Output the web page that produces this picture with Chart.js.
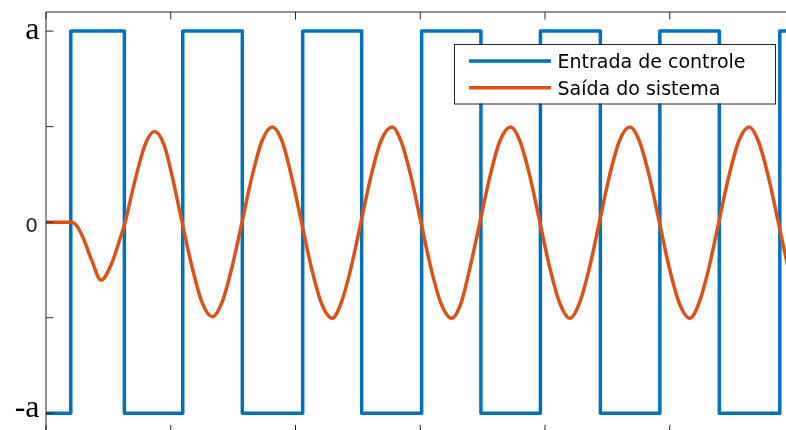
<!DOCTYPE html>
<html>
<head>
<meta charset="utf-8">
<script src="https://cdn.jsdelivr.net/npm/chart.js@4/dist/chart.umd.min.js"></script>
<style>
  html, body { margin: 0; padding: 0; background: #fff; overflow: hidden; }
  #wrap { width: 786px; height: 430px; overflow: hidden; position: relative; background: #fff; }
  canvas { display: block; }
</style>
</head>
<body>
<div id="wrap"><canvas id="c" width="800" height="440" style="width:800px;height:440px"></canvas></div>
<script>
// ---- data ----
const seriesNames = ['Entrada de controle', 'Saída do sistema'];
const xTickValues = [0, 1, 2, 3, 4, 5, 6];
const yTickValues = [-1, -0.5, 0, 0.5, 1];
const yTickLabels = ['-a', '', '0', '', 'a'];

// control input (relay): switching instants and the level that starts there
const inputX = [0, 0.1987, 0.6282, 1.0962, 1.5737, 2.0577, 2.5304, 3.0112, 3.4864, 3.9631, 4.4439, 4.9207, 5.3974, 5.8822, 6.0];
const inputY = [-1, 1, -1, 1, -1, 1, -1, 1, -1, 1, -1, 1, -1, 1, 1];

// system output
const outputX = [0, 0.209, 0.247, 0.300, 0.367, 0.4415, 0.527, 0.594, 0.634,
  0.714, 0.794, 0.869, 0.9463, 1.0184, 1.0905,
  1.171, 1.251, 1.3333, 1.411, 1.4912, 1.5713,
  1.6514, 1.7316, 1.8141, 1.8918, 1.968, 2.048,
  2.1282, 2.2083, 2.2949, 2.3646, 2.4447, 2.5248,
  2.605, 2.6851, 2.7756, 2.8454, 2.9255, 3.0056,
  3.0857, 3.1659, 3.2516, 3.3261, 3.3982, 3.4784,
  3.5585, 3.6386, 3.7244, 3.7989, 3.879, 3.9591,
  4.0393, 4.1194, 4.1995, 4.2756, 4.3558, 4.4359,
  4.516, 4.5962, 4.6803, 4.7564, 4.8365, 4.9167,
  4.9968, 5.0769, 5.1611, 5.2332, 5.3133, 5.3934,
  5.4736, 5.5537, 5.6362, 5.7099, 5.7901, 5.8702,
  5.9503, 6.0304];
const outputY = [0, 0, -0.02, -0.085, -0.2, -0.303, -0.215, -0.085, 0,
  0.22, 0.405, 0.474, 0.405, 0.22, 0,
  -0.235, -0.42, -0.495, -0.42, -0.235, 0,
  0.24, 0.425, 0.498, 0.425, 0.24, 0,
  -0.24, -0.425, -0.503, -0.425, -0.24, 0,
  0.24, 0.425, 0.498, 0.425, 0.24, 0,
  -0.24, -0.425, -0.503, -0.425, -0.24, 0,
  0.24, 0.425, 0.498, 0.425, 0.24, 0,
  -0.24, -0.425, -0.503, -0.425, -0.24, 0,
  0.24, 0.425, 0.498, 0.425, 0.24, 0,
  -0.24, -0.425, -0.503, -0.425, -0.24, 0,
  0.24, 0.425, 0.498, 0.425, 0.24, 0,
  -0.24, -0.425];

// ---- styles ----
const BLUE = '#0072BD';
const ORANGE = '#D95319';
const AXIS = '#262626';

const framePlugin = {
  id: 'matlabFrame',
  afterDatasetsDraw(chart) {
    const ctx = chart.ctx;
    const a = chart.chartArea;
    const xs = chart.scales.x, ys = chart.scales.y;
    const tl = 7.5;
    ctx.save();
    ctx.strokeStyle = AXIS;
    ctx.lineWidth = 1;
    ctx.beginPath();
    ctx.rect(a.left, a.top, a.right - a.left, a.bottom - a.top);
    ctx.stroke();
    ctx.beginPath();
    xTickValues.forEach(v => {
      const x = xs.getPixelForValue(v);
      ctx.moveTo(x, a.top); ctx.lineTo(x, a.top + tl);
      ctx.moveTo(x, a.bottom); ctx.lineTo(x, a.bottom - tl);
    });
    yTickValues.forEach(v => {
      const y = ys.getPixelForValue(v);
      ctx.moveTo(a.left, y); ctx.lineTo(a.left + tl, y);
      ctx.moveTo(a.right, y); ctx.lineTo(a.right - tl, y);
    });
    ctx.stroke();

    // y tick labels
    ctx.textAlign = 'right';
    ctx.textBaseline = 'alphabetic';
    yTickValues.forEach((v, i) => {
      const lab = yTickLabels[i];
      if (!lab) return;
      const y = ys.getPixelForValue(v);
      if (lab === '0') {
        ctx.font = '20px "DejaVu Sans"';
        ctx.fillStyle = AXIS;
        ctx.fillText(lab, a.left - 8, y + 9.5);
      } else {
        ctx.font = '32px "Liberation Serif"';
        ctx.fillStyle = '#000';
        ctx.fillText(lab, a.left - 6.5, v > 0 ? y + 8.3 : y + 4);
      }
    });

    // legend
    const bx = 454, by = 44, bw = 321, bh = 59.5;
    ctx.fillStyle = '#fff';
    ctx.fillRect(bx, by, bw, bh);
    ctx.strokeStyle = AXIS;
    ctx.lineWidth = 1;
    ctx.strokeRect(bx + 0.5, by + 0.5, bw, bh);
    const rows = [61, 87.7];
    chart.data.datasets.forEach((ds, i) => {
      const yy = rows[i];
      ctx.strokeStyle = ds.borderColor;
      ctx.lineWidth = 3.5;
      ctx.beginPath();
      ctx.moveTo(469, yy); ctx.lineTo(551, yy);
      ctx.stroke();
      ctx.fillStyle = '#000';
      ctx.textAlign = 'left';
      ctx.font = '19px "DejaVu Sans"';
      ctx.fillText(ds.label, 557.5, yy + 7);
    });
    ctx.restore();
  }
};

const toPts = (xs, ys) => xs.map((x, i) => ({ x: x, y: ys[i] }));

new Chart(document.getElementById('c'), {
  type: 'line',
  data: {
    datasets: [
      {
        label: seriesNames[0],
        data: toPts(inputX, inputY),
        borderColor: BLUE,
        borderWidth: 3.5,
        stepped: true,
        pointRadius: 0,
        borderJoinStyle: 'round',
        fill: false,
        order: 1
      },
      {
        label: seriesNames[1],
        data: toPts(outputX, outputY),
        borderColor: ORANGE,
        borderWidth: 3.5,
        cubicInterpolationMode: 'monotone',
        pointRadius: 0,
        borderJoinStyle: 'round',
        fill: false,
        order: 0
      }
    ]
  },
  options: {
    responsive: false,
    animation: false,
    devicePixelRatio: 1,
    layout: { padding: { left: 46, top: 12, right: 5.5, bottom: 7.6 } },
    plugins: { legend: { display: false }, tooltip: { enabled: false } },
    scales: {
      x: { type: 'linear', min: 0, max: 6, display: false },
      y: { type: 'linear', min: -1.1, max: 1.1, display: false }
    }
  },
  plugins: [framePlugin]
});
</script>
</body>
</html>
